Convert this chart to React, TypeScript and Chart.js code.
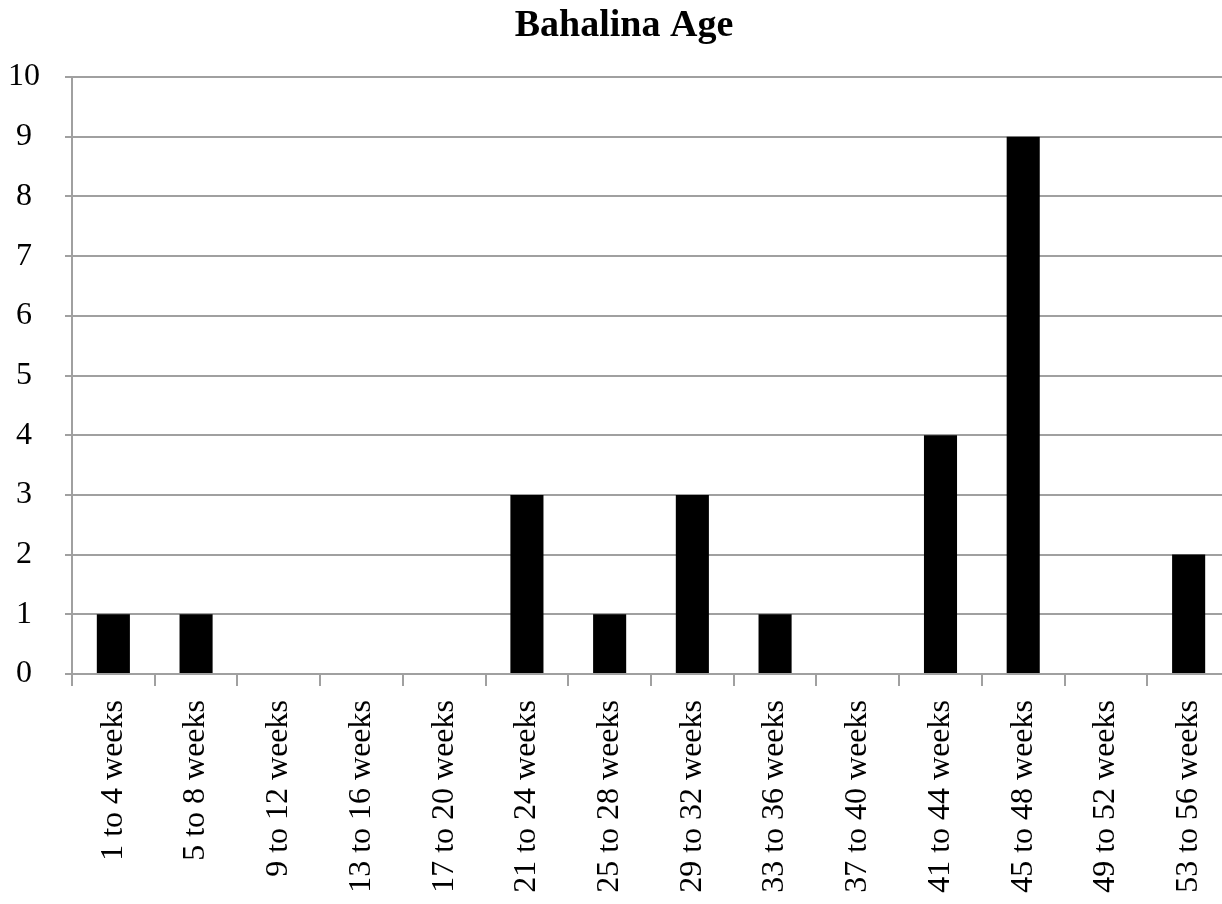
import React, { useEffect, useRef } from "react";
import { Chart, registerables } from "chart.js";

Chart.register(...registerables);

const categories = [
  "1 to 4 weeks",
  "5 to 8 weeks",
  "9 to 12 weeks",
  "13 to 16 weeks",
  "17 to 20 weeks",
  "21 to 24 weeks",
  "25 to 28 weeks",
  "29 to 32 weeks",
  "33 to 36 weeks",
  "37 to 40 weeks",
  "41 to 44 weeks",
  "45 to 48 weeks",
  "49 to 52 weeks",
  "53 to 56 weeks",
];
const counts = [1, 1, 0, 0, 0, 3, 1, 3, 1, 0, 4, 9, 0, 2];
const titleText = "Bahalina Age";
const yMin = 0;
const yMax = 10;

const FONT = "'Liberation Serif', 'Times New Roman', serif";
const GRID = "#a0a0a0";

export default function App() {
  const ref = useRef<HTMLCanvasElement>(null);
  useEffect(() => {
    if (!ref.current) return;
    const chart = new Chart(ref.current, {
      type: "bar",
      data: {
        labels: categories,
        datasets: [
          {
            data: counts,
            backgroundColor: "#000000",
            borderWidth: 0,
            barPercentage: 0.4,
            categoryPercentage: 1,
            yAxisID: "y",
          },
        ],
      },
      options: {
        animation: false,
        responsive: false,
        layout: { padding: { left: 8, right: 16, top: 0, bottom: 0 } },
        plugins: {
          legend: { display: false },
          tooltip: { enabled: false },
          title: {
            display: true,
            text: titleText,
            color: "#000",
            font: { family: FONT, size: 38, weight: "bold" },
            padding: { top: 3, bottom: 28.4 },
          },
        },
        scales: {
          x: {
            afterFit: (s: any) => {
              s.height = 230;
            },
            grid: {
              display: true,
              drawOnChartArea: false,
              drawTicks: true,
              tickLength: 12,
              color: GRID,
              lineWidth: 2,
              offset: true,
            },
            border: { display: true, color: GRID, width: 2 },
            ticks: {
              color: "#000",
              font: { family: FONT, size: 32 },
              minRotation: 90,
              maxRotation: 90,
              padding: 14,
              autoSkip: false,
            },
          },
          y: {
            min: yMin,
            max: yMax,
            afterFit: (s: any) => {
              s.width = 64;
            },
            grid: {
              color: GRID,
              lineWidth: 2,
              tickLength: 7,
              drawTicks: true,
            },
            border: { display: true, color: GRID, width: 2 },
            ticks: {
              stepSize: 1,
              color: "#000",
              font: { family: FONT, size: 32 },
              padding: 25,
              crossAlign: "center",
            },
          },
          spacer: {
            type: "linear",
            position: "right",
            display: true,
            afterFit: (s: any) => {
              s.width = 10;
            },
            grid: { display: false },
            border: { display: false },
            ticks: { display: false },
          },
        },
      },
    });
    return () => chart.destroy();
  }, []);
  return (
    <div
      style={{
        position: "fixed",
        left: 0,
        top: 0,
        width: 1222,
        height: 904,
        overflow: "hidden",
        background: "#fff",
      }}
    >
      <canvas ref={ref} width={1256} height={904} style={{ display: "block" }} />
    </div>
  );
}
